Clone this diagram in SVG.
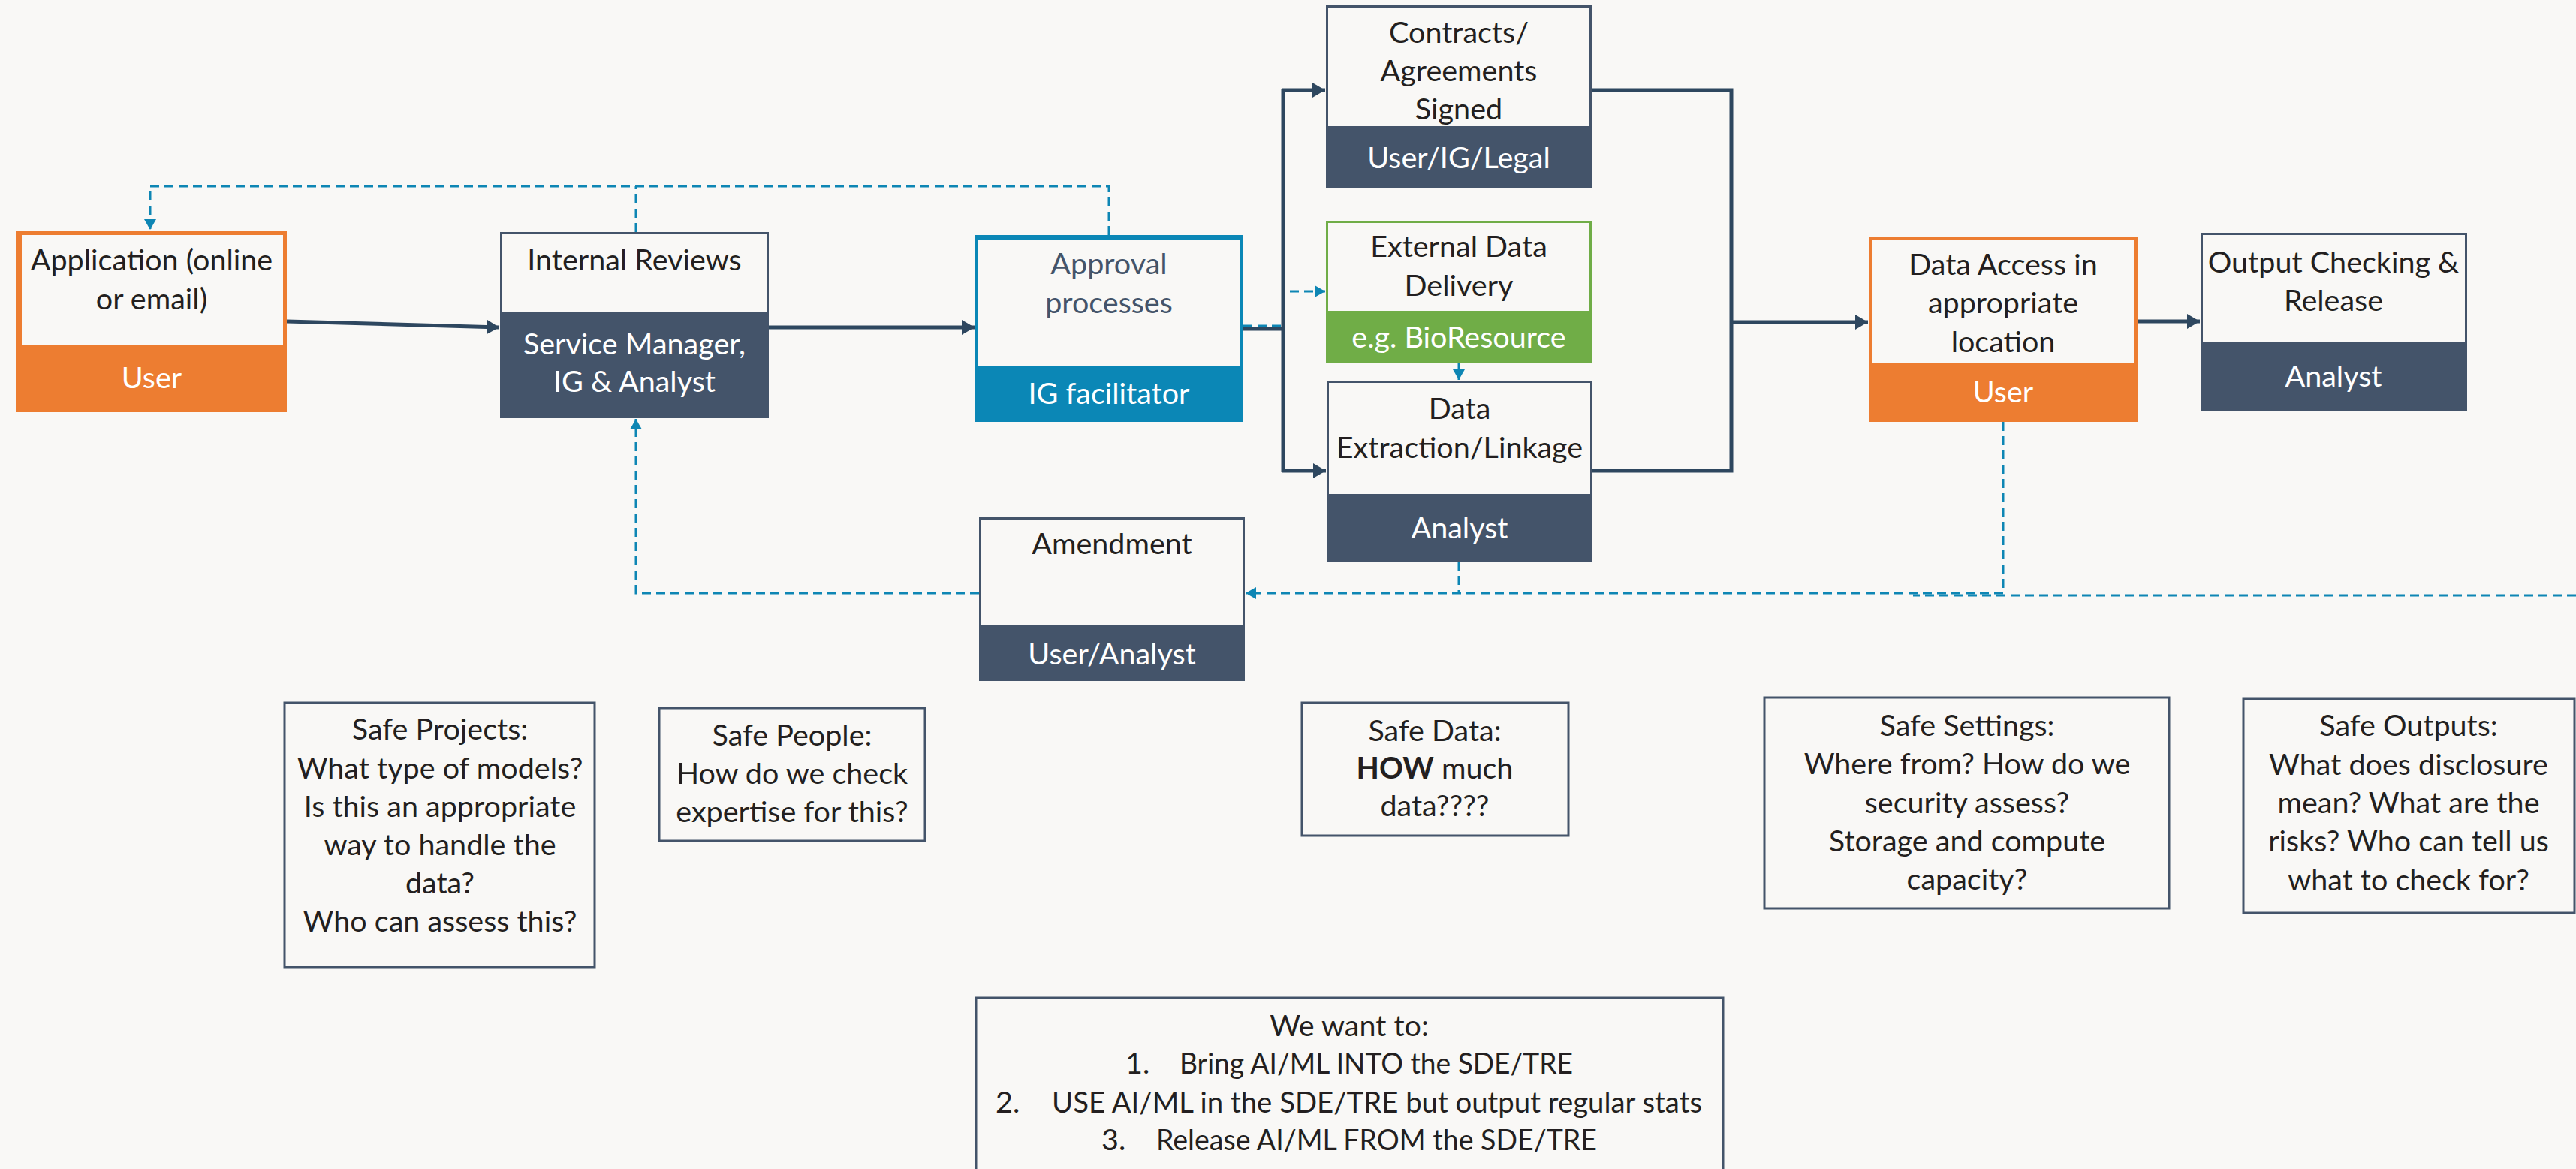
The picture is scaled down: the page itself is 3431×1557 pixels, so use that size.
<svg xmlns="http://www.w3.org/2000/svg" width="3431" height="1557" viewBox="0 0 3431 1557">
<style>
.t{font-family:Lato,"Liberation Sans",sans-serif;font-size:39.5px;fill:#231F20;text-anchor:middle}
.l{text-anchor:start}
.w{fill:#FFFFFF}
.s{fill:#44546A}
.bg{fill:#F9F8F6}
.box{fill:none;stroke:#44546A;stroke-width:3}
.conn{fill:none;stroke:#2E475F;stroke-width:5}
.dash{fill:none;stroke:#0E86B4;stroke-width:3;stroke-dasharray:12 7}
</style>
<defs>
<marker id="ah" markerUnits="userSpaceOnUse" markerWidth="18" markerHeight="20" refX="17" refY="10" orient="auto">
<path d="M0,0 L17,10 L0,20 z" fill="#2E475F"/>
</marker>
<marker id="bh" markerUnits="userSpaceOnUse" markerWidth="14" markerHeight="16" refX="14" refY="8" orient="auto">
<path d="M0,0 L14,8 L0,16 z" fill="#0E86B4"/>
</marker>
</defs>
<rect x="0" y="0" width="3431" height="1557" fill="#F9F8F6"/>

<g id="connectors">
<path class="dash" d="M1477,313 V248 H200 V306" marker-end="url(#bh)"/>
<path class="dash" d="M847,309 V248"/>
<path class="dash" d="M1656,434 H1709"/>
<path class="dash" d="M1718,388 H1765" marker-end="url(#bh)"/>
<path class="dash" d="M1943,484 V506" marker-end="url(#bh)"/>
<path class="dash" d="M3431,793 H2548"/>
<path class="dash" d="M2668,562 V790 H1659" marker-end="url(#bh)"/>
<path class="dash" d="M1943,748 V790"/>
<path class="dash" d="M1304,790 H847 V558" marker-end="url(#bh)"/>
<path class="conn" d="M382,428 L665,436" marker-end="url(#ah)"/>
<path class="conn" d="M1024,436 H1298" marker-end="url(#ah)"/>
<path class="conn" d="M1656,438 H1709"/>
<path class="conn" d="M1709,118 V629"/>
<path class="conn" d="M1707,120 H1765" marker-end="url(#ah)"/>
<path class="conn" d="M1707,627 H1766" marker-end="url(#ah)"/>
<path class="conn" d="M2120,120 H2306 V627 H2121"/>
<path class="conn" d="M2306,429 H2488" marker-end="url(#ah)"/>
<path class="conn" d="M2847,428 H2930" marker-end="url(#ah)"/>
</g>

<g id="application">
<rect x="21" y="308" width="361" height="241" fill="#ED7D31"/>
<rect x="29" y="313" width="348" height="146" class="bg"/>
<text class="t" x="202" y="360">Application (online</text>
<text class="t" x="202" y="412">or email)</text>
<text class="t w" x="202" y="517">User</text>
</g>

<g id="internal-reviews">
<rect x="666" y="309" width="358" height="248" class="s"/>
<rect x="669" y="312" width="352" height="103" class="bg"/>
<text class="t" x="845" y="360">Internal Reviews</text>
<text class="t w" x="845" y="472">Service Manager,</text>
<text class="t w" x="845" y="522">IG &amp; Analyst</text>
</g>

<g id="approval">
<rect x="1299" y="313" width="357" height="249" fill="#0B87B6"/>
<rect x="1303" y="320" width="349" height="168" class="bg"/>
<text class="t" x="1477" y="365" style="fill:#44546A">Approval</text>
<text class="t" x="1477" y="417" style="fill:#44546A">processes</text>
<text class="t w" x="1477" y="538">IG facilitator</text>
</g>

<g id="contracts">
<rect x="1766" y="7" width="354" height="244" class="s"/>
<rect x="1769" y="10" width="348" height="158" class="bg"/>
<text class="t" x="1943" y="57">Contracts/</text>
<text class="t" x="1943" y="108">Agreements</text>
<text class="t" x="1943" y="159">Signed</text>
<text class="t w" x="1943" y="224">User/IG/Legal</text>
</g>

<g id="external-data">
<rect x="1766" y="294" width="354" height="190" fill="#70AD47"/>
<rect x="1769" y="297" width="348" height="117" class="bg"/>
<text class="t" x="1943" y="342">External Data</text>
<text class="t" x="1943" y="394">Delivery</text>
<text class="t w" x="1943" y="463">e.g. BioResource</text>
</g>

<g id="data-extraction">
<rect x="1767" y="507" width="354" height="241" class="s"/>
<rect x="1770" y="510" width="348" height="148" class="bg"/>
<text class="t" x="1944" y="558">Data</text>
<text class="t" x="1944" y="610">Extraction/Linkage</text>
<text class="t w" x="1944" y="717">Analyst</text>
</g>

<g id="amendment">
<rect x="1304" y="689" width="354" height="218" class="s"/>
<rect x="1307" y="692" width="348" height="141" class="bg"/>
<text class="t" x="1481" y="738">Amendment</text>
<text class="t w" x="1481" y="885">User/Analyst</text>
</g>

<g id="data-access">
<rect x="2489" y="315" width="358" height="247" fill="#ED7D31"/>
<rect x="2494" y="320" width="348" height="164" class="bg"/>
<text class="t" x="2668" y="366">Data Access in</text>
<text class="t" x="2668" y="417">appropriate</text>
<text class="t" x="2668" y="469">location</text>
<text class="t w" x="2668" y="536">User</text>
</g>

<g id="output-checking">
<rect x="2931" y="310" width="355" height="237" class="s"/>
<rect x="2934" y="313" width="349" height="142" class="bg"/>
<text class="t" x="3108" y="363">Output Checking &amp;</text>
<text class="t" x="3108" y="414">Release</text>
<text class="t w" x="3108" y="515">Analyst</text>
</g>

<g id="safe-projects">
<rect x="379" y="936" width="413" height="352" class="box"/>
<text class="t" x="586" y="985">Safe Projects:</text>
<text class="t" x="586" y="1037">What type of models?</text>
<text class="t" x="586" y="1088">Is this an appropriate</text>
<text class="t" x="586" y="1139">way to handle the</text>
<text class="t" x="586" y="1190">data?</text>
<text class="t" x="586" y="1241">Who can assess this?</text>
</g>

<g id="safe-people">
<rect x="878" y="943" width="354" height="177" class="box"/>
<text class="t" x="1055" y="993">Safe People:</text>
<text class="t" x="1055" y="1044">How do we check</text>
<text class="t" x="1055" y="1095">expertise for this?</text>
</g>

<g id="safe-data">
<rect x="1734" y="936" width="355" height="177" class="box"/>
<text class="t" x="1911" y="987">Safe Data:</text>
<text class="t" x="1911" y="1037"><tspan font-weight="bold">HOW</tspan> much</text>
<text class="t" x="1911" y="1087">data????</text>
</g>

<g id="safe-settings">
<rect x="2350" y="929" width="539" height="281" class="box"/>
<text class="t" x="2620" y="980">Safe Settings:</text>
<text class="t" x="2620" y="1031">Where from? How do we</text>
<text class="t" x="2620" y="1083">security assess?</text>
<text class="t" x="2620" y="1134">Storage and compute</text>
<text class="t" x="2620" y="1185">capacity?</text>
</g>

<g id="safe-outputs">
<rect x="2988" y="931" width="441" height="285" class="box"/>
<text class="t" x="3208" y="980">Safe Outputs:</text>
<text class="t" x="3208" y="1032">What does disclosure</text>
<text class="t" x="3208" y="1083">mean? What are the</text>
<text class="t" x="3208" y="1134">risks? Who can tell us</text>
<text class="t" x="3208" y="1186">what to check for?</text>
</g>

<g id="we-want">
<rect x="1300" y="1329" width="995" height="260" class="box"/>
<text class="t" x="1797" y="1380">We want to:</text>
<text class="t l" x="1499" y="1430">1.</text>
<text class="t l" x="1571" y="1430" textLength="524" lengthAdjust="spacingAndGlyphs">Bring AI/ML INTO the SDE/TRE</text>
<text class="t l" x="1326" y="1482">2.</text>
<text class="t l" x="1401" y="1482" textLength="866" lengthAdjust="spacingAndGlyphs">USE AI/ML in the SDE/TRE but output regular stats</text>
<text class="t l" x="1467" y="1532">3.</text>
<text class="t l" x="1540" y="1532" textLength="587" lengthAdjust="spacingAndGlyphs">Release AI/ML FROM the SDE/TRE</text>
</g>
</svg>
